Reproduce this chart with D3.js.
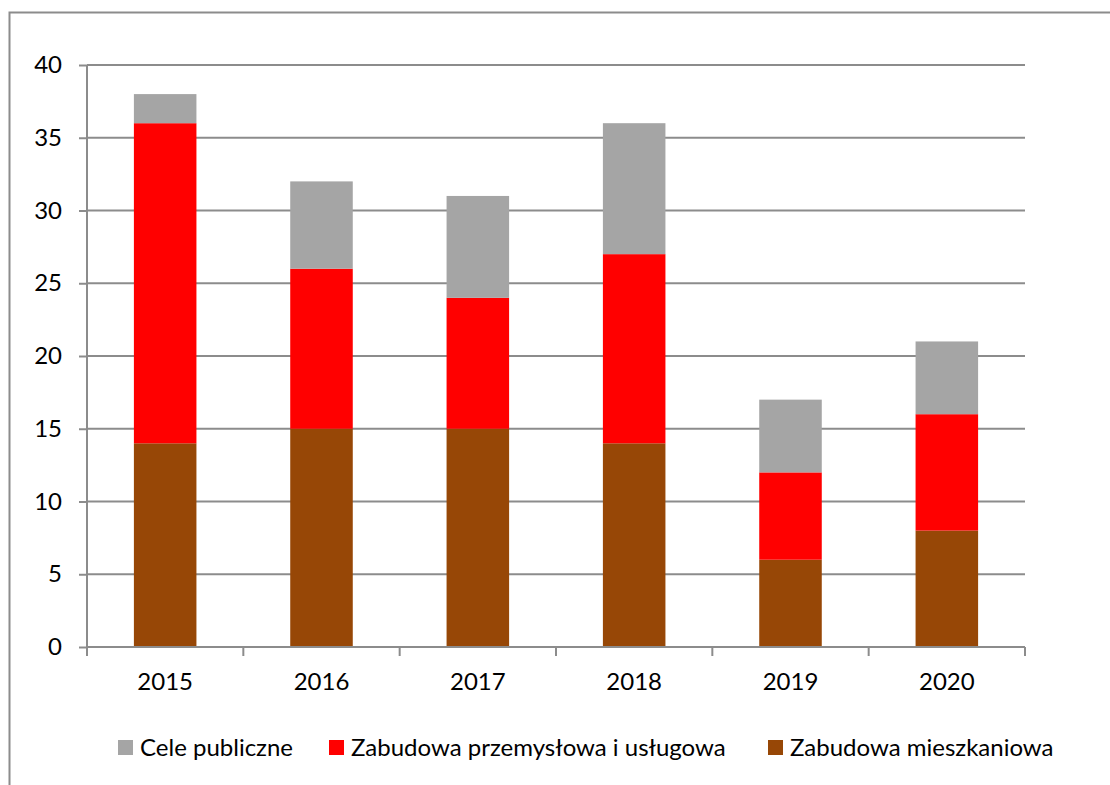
<html>
<head>
<meta charset="utf-8">
<script src="https://d3js.org/d3.v7.min.js"></script>
<style>
  body { margin: 0; background: #fff; }
  text { font-family: Lato, "Open Sans", sans-serif; fill: #000; }
</style>
</head>
<body>
<svg id="chart" width="1110" height="785"></svg>
<script>
// data
var years = ["2015", "2016", "2017", "2018", "2019", "2020"];
var mieszkaniowa = [14, 15, 15, 14, 6, 8];
var przemyslowa = [22, 11, 9, 13, 6, 8];
var publiczne = [2, 6, 7, 9, 5, 5];
var seriesNames = ["Cele publiczne", "Zabudowa przemysłowa i usługowa", "Zabudowa mieszkaniowa"];
var yTicks = [0, 5, 10, 15, 20, 25, 30, 35, 40];

var colors = {
  "Zabudowa mieszkaniowa": "#974706",
  "Zabudowa przemysłowa i usługowa": "#FF0000",
  "Cele publiczne": "#A5A5A5"
};

var svg = d3.select("#chart");

// outer chart frame (runs off the right and bottom of the picture)
svg.append("path")
  .attr("d", "M9.5,790 L9.5,12.5 L1120,12.5")
  .attr("fill", "none")
  .attr("stroke", "#8c8c8c")
  .attr("stroke-width", 2);

var plotLeft = 87, plotRight = 1025, plotTop = 65, plotBottom = 647;

var x = d3.scaleBand()
  .domain(years)
  .range([plotLeft, plotRight])
  .paddingInner(0.6)
  .paddingOuter(0.3);

var xb = d3.scaleBand().domain(years).range([plotLeft, plotRight]);

var y = d3.scaleLinear()
  .domain([0, 40])
  .range([plotBottom, plotTop]);

// gridlines
svg.append("g").selectAll("line")
  .data(yTicks.filter(function(d) { return d > 0; }))
  .join("line")
  .attr("x1", plotLeft).attr("x2", plotRight)
  .attr("y1", function(d) { return y(d); })
  .attr("y2", function(d) { return y(d); })
  .attr("stroke", "#8c8c8c")
  .attr("stroke-width", 2);

// y labels + ticks
var yAxis = svg.append("g")
  .attr("transform", "translate(" + plotLeft + ",0)")
  .call(d3.axisLeft(y).tickValues(yTicks).tickSize(8).tickPadding(17));
yAxis.select(".domain").remove();
yAxis.selectAll(".tick line").attr("stroke", "#8c8c8c").attr("stroke-width", 2);
yAxis.selectAll(".tick text").style("font-size", "24px").attr("font-family", "Lato").attr("fill", "#000");

svg.append("line")
  .attr("x1", plotLeft).attr("x2", plotLeft)
  .attr("y1", plotTop).attr("y2", plotBottom)
  .attr("stroke", "#8c8c8c").attr("stroke-width", 2);

// stacked bars
var rows = years.map(function(yr, i) {
  return {
    year: yr,
    "Zabudowa mieszkaniowa": mieszkaniowa[i],
    "Zabudowa przemysłowa i usługowa": przemyslowa[i],
    "Cele publiczne": publiczne[i]
  };
});
var stack = d3.stack().keys(["Zabudowa mieszkaniowa", "Zabudowa przemysłowa i usługowa", "Cele publiczne"]);
var layers = stack(rows);

svg.append("g").selectAll("g")
  .data(layers)
  .join("g")
  .attr("fill", function(d) { return colors[d.key]; })
  .selectAll("rect")
  .data(function(d) { return d; })
  .join("rect")
  .attr("x", function(d) { return x(d.data.year); })
  .attr("width", x.bandwidth())
  .attr("y", function(d) { return y(d[1]); })
  .attr("height", function(d) { return y(d[0]) - y(d[1]); });

// x axis
var xAxis = svg.append("g")
  .attr("transform", "translate(0," + plotBottom + ")")
  .call(d3.axisBottom(xb).tickSize(0));
xAxis.select(".domain").attr("stroke", "#8c8c8c").attr("stroke-width", 2)
  .attr("d", "M" + plotLeft + ",0H" + plotRight);
xAxis.selectAll(".tick text")
  .attr("y", 43).attr("dy", 0)
  .style("font-size", "24px").attr("font-family", "Lato").attr("fill", "#000");

var bounds = [plotLeft].concat(years.map(function(d) { return xb(d) + xb.bandwidth(); }));
svg.append("g").selectAll("line")
  .data(bounds)
  .join("line")
  .attr("x1", function(d) { return d; }).attr("x2", function(d) { return d; })
  .attr("y1", plotBottom).attr("y2", plotBottom + 9)
  .attr("stroke", "#8c8c8c").attr("stroke-width", 2);

// legend
var legendX = [118, 329, 768];
var legend = svg.append("g").selectAll("g")
  .data(seriesNames)
  .join("g")
  .attr("transform", function(d, i) { return "translate(" + legendX[i] + ",740)"; });
legend.append("rect")
  .attr("width", 15).attr("height", 15)
  .attr("fill", function(d) { return colors[d]; });
legend.append("text")
  .attr("x", 22).attr("y", 16)
  .style("font-size", "24px")
  .text(function(d) { return d; });
</script>
</body>
</html>
